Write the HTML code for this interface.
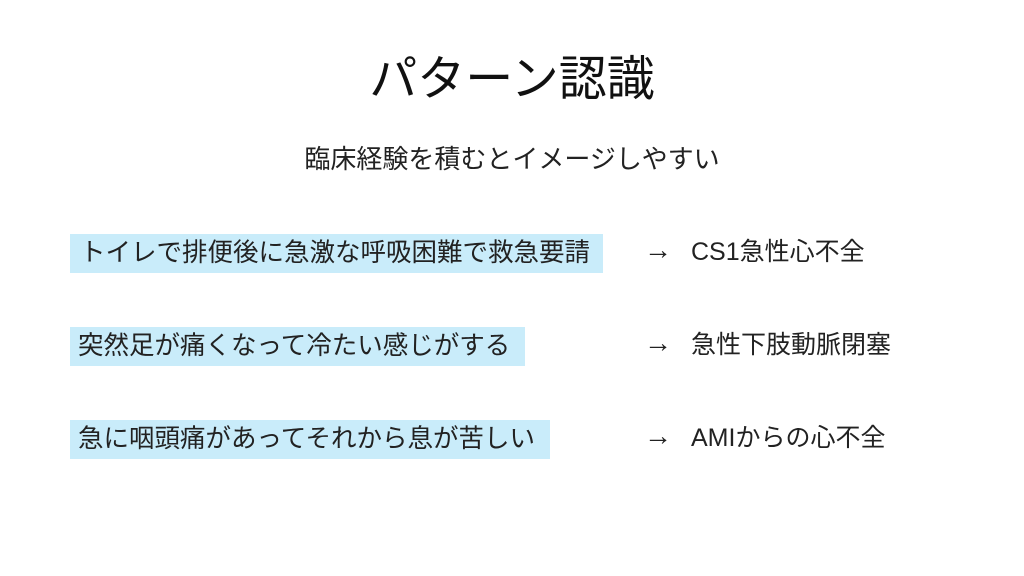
<!DOCTYPE html>
<html><head><meta charset="utf-8"><style>
body{margin:0;width:1024px;height:576px;background:#fff;position:relative;overflow:hidden;font-family:"Liberation Sans","Noto Sans CJK JP",sans-serif;color:#222}
div{position:absolute;white-space:nowrap}
.b{background:#c9ecfa}
.t{font-size:25.5px;line-height:26px}
.r{font-size:25px;line-height:26px}
.a{font-size:28px;line-height:24px}
</style></head><body>
<div style="left:0;width:1024px;top:54px;text-align:center;font-size:48px;line-height:52px;color:#111">パターン認識</div>
<div style="left:0;width:1024px;top:145px;text-align:center;font-size:26px;line-height:28px">臨床経験を積むとイメージしやすい</div>

<div class="b" style="left:70px;top:234px;width:533px;height:39px"></div>
<div class="t" style="left:80px;top:240px">トイレで排便後に急激な呼吸困難で救急要請</div>
<div class="a" style="left:644px;top:238px">→</div>
<div class="r" style="left:691px;top:239px">CS1急性心不全</div>

<div class="b" style="left:70px;top:327px;width:455px;height:39px"></div>
<div class="t" style="left:78px;top:333px">突然足が痛くなって冷たい感じがする</div>
<div class="a" style="left:644px;top:331px">→</div>
<div class="r" style="left:691px;top:332px">急性下肢動脈閉塞</div>

<div class="b" style="left:70px;top:420px;width:480px;height:39px"></div>
<div class="t" style="left:78px;top:426px">急に咽頭痛があってそれから息が苦しい</div>
<div class="a" style="left:644px;top:424px">→</div>
<div class="r" style="left:691px;top:425px">AMIからの心不全</div>
</body></html>
